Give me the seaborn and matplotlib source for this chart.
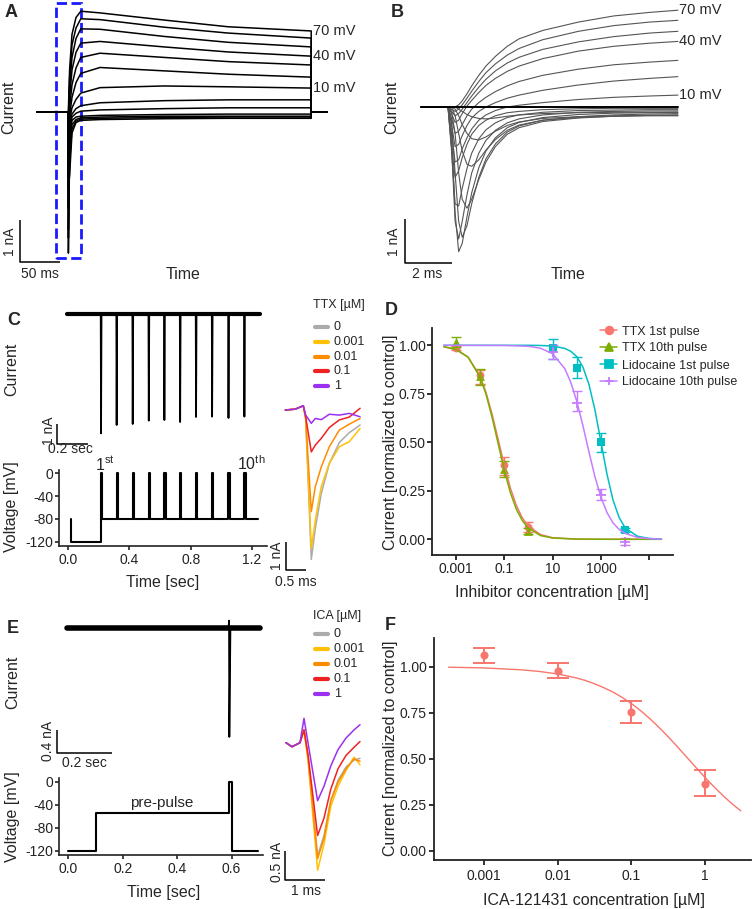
import numpy as np
import pandas as pd
import matplotlib.pyplot as plt
import seaborn as sns
from matplotlib.lines import Line2D
from matplotlib.patches import Rectangle

sns.set_style("ticks")
plt.rcParams["font.family"] = ["Liberation Sans", "DejaVu Sans"]
plt.rcParams["mathtext.fontset"] = "custom"
plt.rcParams["mathtext.rm"] = "Liberation Sans"
plt.rcParams["mathtext.it"] = "Liberation Sans:italic"
plt.rcParams["mathtext.bf"] = "Liberation Sans:bold"
plt.rcParams["axes.unicode_minus"] = False

W, H = 756, 909

# ---------------- data ----------------
# A: currents over the whole 300 ms step (time in ms, current in nA), 70 mV downwards
a_time = [-39, 0, 0.5, 2, 5, 10, 16, 40, 120, 200, 304, 304, 324]
a_current = [
    [0, 0, 0.05, 1.0, 1.85, 2.25, 2.4, 2.36, 2.19, 2.03, 1.93, 0, 0],
    [0, 0, -0.1, 0.8, 1.6, 2.0, 2.22, 2.2, 2.02, 1.88, 1.76, 0, 0],
    [0, 0, -0.2, 0.6, 1.3, 1.75, 1.98, 1.97, 1.8, 1.66, 1.55, 0, 0],
    [0, 0, -0.35, 0.35, 1.0, 1.42, 1.64, 1.68, 1.55, 1.43, 1.33, 0, 0],
    [0, 0, -0.6, 0.1, 0.65, 1.05, 1.3, 1.4, 1.3, 1.2, 1.12, 0, 0],
    [0, 0, -0.9, -0.1, 0.35, 0.7, 0.92, 1.06, 0.98, 0.9, 0.83, 0, 0],
    [0, 0, -1.25, -0.2, 0.1, 0.3, 0.45, 0.58, 0.62, 0.6, 0.57, 0, 0],
    [0, 0, -1.6, -0.3, -0.05, 0.08, 0.15, 0.22, 0.27, 0.29, 0.29, 0, 0],
    [0, 0, -2.3, -0.5, -0.12, -0.03, 0.02, 0.05, 0.08, 0.1, 0.1, 0, 0],
    [0, 0, -3.0, -0.6, -0.2, -0.12, -0.1, -0.08, -0.06, -0.05, -0.05, 0, 0],
    [0, 0, -3.36, -0.9, -0.3, -0.18, -0.14, -0.12, -0.1, -0.1, -0.1, 0, 0],
    [0, 0, -2.8, -1.2, -0.4, -0.22, -0.17, -0.15, -0.13, -0.12, -0.12, 0, 0],
    [0, 0, -1.8, -1.5, -0.5, -0.25, -0.2, -0.18, -0.16, -0.15, -0.15, 0, 0],
]
step_label_rows = [0, 3, 6]
step_label_text = ["70 mV", "40 mV", "10 mV"]

# B: first 10 ms of the same steps (time in ms, current in nA)
b_time = [-1.15, 0, 0.15, 0.3, 0.45, 0.6, 0.8, 1.0, 1.3, 1.6, 2.0, 2.5, 3.0, 4.0, 5.5, 7.0, 8.5, 9.7]
b_current = [
    [0, 0, 0, 0.0, 0.05, 0.14, 0.3, 0.48, 0.72, 0.93, 1.15, 1.38, 1.55, 1.74, 1.93, 2.07, 2.15, 2.2],
    [0, 0, -0.05, -0.1, -0.05, 0.05, 0.2, 0.36, 0.58, 0.78, 0.98, 1.18, 1.33, 1.53, 1.72, 1.85, 1.93, 1.97],
    [0, 0, -0.1, -0.2, -0.15, -0.05, 0.1, 0.25, 0.45, 0.63, 0.82, 1.0, 1.13, 1.31, 1.48, 1.6, 1.68, 1.72],
    [0, 0, -0.15, -0.35, -0.3, -0.15, 0.02, 0.15, 0.33, 0.49, 0.65, 0.81, 0.93, 1.1, 1.27, 1.38, 1.45, 1.49],
    [0, 0, -0.25, -0.6, -0.55, -0.4, -0.2, -0.05, 0.1, 0.22, 0.35, 0.48, 0.58, 0.72, 0.86, 0.96, 1.02, 1.06],
    [0, 0, -0.4, -0.9, -0.85, -0.65, -0.42, -0.25, -0.1, 0.0, 0.1, 0.2, 0.27, 0.38, 0.5, 0.59, 0.65, 0.69],
    [0, 0, -0.6, -1.25, -1.2, -0.95, -0.7, -0.5, -0.3, -0.18, -0.08, 0.0, 0.04, 0.1, 0.17, 0.22, 0.25, 0.27],
    [0, 0, -0.9, -1.6, -1.45, -1.15, -0.85, -0.62, -0.42, -0.3, -0.2, -0.13, -0.1, -0.06, -0.04, -0.03, -0.03, -0.03],
    [0, 0, -1.0, -2.2, -2.25, -1.85, -1.4, -1.05, -0.72, -0.52, -0.36, -0.24, -0.18, -0.12, -0.08, -0.07, -0.06, -0.06],
    [0, 0, -0.9, -2.6, -3.0, -2.6, -2.0, -1.5, -1.05, -0.76, -0.53, -0.36, -0.27, -0.18, -0.12, -0.1, -0.09, -0.09],
    [0, 0, -0.6, -2.4, -3.29, -3.1, -2.5, -1.95, -1.38, -1.0, -0.7, -0.47, -0.35, -0.24, -0.17, -0.14, -0.13, -0.12],
    [0, 0, -0.3, -1.5, -2.6, -2.96, -2.7, -2.2, -1.6, -1.18, -0.84, -0.57, -0.43, -0.3, -0.22, -0.18, -0.16, -0.15],
    [0, 0, -0.1, -0.6, -1.5, -2.1, -2.3, -2.1, -1.65, -1.25, -0.9, -0.62, -0.47, -0.33, -0.25, -0.21, -0.19, -0.18],
    [0, 0, 0, -0.2, -0.6, -1.0, -1.3, -1.35, -1.2, -0.98, -0.74, -0.53, -0.41, -0.3, -0.24, -0.21, -0.2, -0.2],
    [0, 0, 0, -0.05, -0.2, -0.4, -0.6, -0.72, -0.75, -0.68, -0.55, -0.42, -0.34, -0.26, -0.22, -0.2, -0.19, -0.19],
    [0, 0, 0, 0, -0.05, -0.1, -0.17, -0.22, -0.26, -0.27, -0.25, -0.21, -0.18, -0.15, -0.13, -0.12, -0.12, -0.12],
]
b_baseline = [0] * len(b_time)

# C: 10 Hz train (time in s, current in nA, voltage in mV)
c_trace_start, c_trace_end = -0.0085, 1.253
c_pulse_times = [0.214, 0.316, 0.421, 0.526, 0.628, 0.731, 0.835, 0.94, 1.047, 1.151]
c_spike_amp = [5.97, 5.55, 5.5, 5.33, 5.3, 5.4, 5.15, 5.13, 5.2, 5.13]
c_pulse_dur = 0.008
c_v_start, c_v_end = 0.015, 1.24
c_v_hold, c_v_pre, c_v_test, c_v_inter = -80, -120, 0, -80

conc_labels = ["0", "0.001", "0.01", "0.1", "1"]
conc_colors = ["#ABABAB", "#FFC107", "#FF8C00", "#EE2222", "#9B30F0"]

# C inset: first-pulse currents for each TTX concentration (ms, nA)
ci_time = [-0.45, -0.2, 0.0, 0.06, 0.2, 0.3, 0.45, 0.65, 0.9, 1.15, 1.42]
ci_current = [
    [0, 0.03, 0.15, -0.3, -5.28, -4.19, -2.95, -1.89, -1.15, -0.80, -0.53],
    [0, 0.03, 0.15, -0.3, -4.89, -3.89, -2.71, -1.89, -1.30, -1.12, -0.65],
    [0, 0.03, 0.15, -0.3, -3.59, -2.71, -2.01, -1.30, -0.71, -0.50, -0.30],
    [0, 0.03, 0.15, -0.24, -1.48, -1.24, -1.0, -0.62, -0.35, -0.25, 0.06],
    [0, 0.03, 0.15, -0.18, -0.47, -0.30, -0.34, -0.15, -0.18, -0.12, -0.24],
]

# D: concentration-response (µM, normalized current)
d_series = ["TTX 1st pulse", "TTX 10th pulse", "Lidocaine 1st pulse", "Lidocaine 10th pulse"]
d_colors = ["#F8766D", "#7CAE00", "#00BFC4", "#C77CFF"]
d_markers = ["o", "^", "s", "+"]
d_conc = [
    [0.001, 0.01, 0.1, 1],
    [0.001, 0.01, 0.1, 1],
    [10, 100, 1000, 10000],
    [10, 100, 1000, 10000],
]
d_mean = [
    [0.988, 0.847, 0.383, 0.065],
    [1.018, 0.84, 0.36, 0.044],
    [0.985, 0.885, 0.50, 0.048],
    [0.967, 0.705, 0.228, -0.012],
]
d_low = [
    [0.975, 0.80, 0.33, 0.04],
    [0.99, 0.795, 0.32, 0.025],
    [0.93, 0.83, 0.45, 0.035],
    [0.93, 0.66, 0.20, -0.03],
]
d_high = [
    [0.995, 0.875, 0.425, 0.09],
    [1.045, 0.88, 0.405, 0.06],
    [1.035, 0.94, 0.548, 0.06],
    [1.0, 0.765, 0.258, 0.005],
]
d_fit_log_ttx = [-3.5, -3, -2.5, -2, -1.75, -1.5, -1.25, -1, -0.75, -0.5, -0.25, 0, 0.5, 1, 2, 3.5, 5.5]
d_fit_log_lido = [-3.5, -1, 0, 0.5, 1, 1.5, 1.75, 2, 2.25, 2.5, 2.75, 3, 3.25, 3.5, 3.75, 4, 4.5, 5, 5.5]
d_fit_log = [d_fit_log_ttx, d_fit_log_ttx, d_fit_log_lido, d_fit_log_lido]
d_fit = [
    [0.992, 0.978, 0.939, 0.84, 0.754, 0.641, 0.512, 0.38, 0.264, 0.173, 0.109, 0.067, 0.024, 0.008, 0.001, 0.0, 0.0],
    [0.993, 0.979, 0.939, 0.835, 0.744, 0.625, 0.49, 0.355, 0.24, 0.154, 0.095, 0.057, 0.019, 0.0065, 0.0007, 0.0, 0.0],
    [1.0, 1.0, 1.0, 0.999, 0.996, 0.984, 0.969, 0.941, 0.888, 0.799, 0.666, 0.5, 0.334, 0.201, 0.112, 0.059, 0.016, 0.004, 0.001],
    [1.0, 0.999, 0.995, 0.985, 0.956, 0.880, 0.809, 0.71, 0.587, 0.451, 0.322, 0.216, 0.137, 0.084, 0.051, 0.030, 0.010, 0.0035, 0.0012],
]
d_xticks = [1e-3, 1e-1, 1e1, 1e3, 1e5]
d_xticklabels = ["0.001", "0.1", "10", "1000", ""]

# E: pre-pulse protocol (s, nA, mV)
e_trace_start, e_trace_end = -0.005, 0.705
e_spike_time, e_spike_amp, e_blip = 0.592, 1.92, 0.13
e_v_time = [0.0, 0.1, 0.1, 0.592, 0.592, 0.603, 0.603, 0.698]
e_v_level = [-120, -120, -55, -55, 0, 0, -120, -120]

# E inset: test-pulse currents for each ICA concentration (ms, nA)
ei_time = [-0.45, -0.3, -0.1, 0.0, 0.1, 0.34, 0.5, 0.67, 0.85, 1.05, 1.25, 1.4]
ei_current = [
    [0, -0.07, 0.0, 0.22, -0.25, -1.95, -1.6, -1.0, -0.65, -0.42, -0.3, -0.27],
    [0, -0.07, 0.0, 0.22, -0.3, -2.2, -1.75, -1.1, -0.75, -0.48, -0.25, -0.38],
    [0, -0.07, 0.0, 0.22, -0.25, -2.0, -1.65, -1.0, -0.68, -0.45, -0.28, -0.32],
    [0, -0.07, 0.0, 0.22, -0.2, -1.6, -1.3, -0.8, -0.45, -0.22, -0.08, 0.02],
    [0, -0.07, 0.0, 0.42, 0.0, -1.0, -0.75, -0.4, -0.12, 0.08, 0.22, 0.31],
]

# F: ICA-121431 concentration-response
f_color = "#F8766D"
f_conc = [0.001, 0.01, 0.1, 1]
f_mean = [1.064, 0.977, 0.751, 0.364]
f_low = [1.022, 0.94, 0.695, 0.296]
f_high = [1.104, 1.018, 0.813, 0.436]
f_fit_log = [-3.48, -3, -2.5, -2.25, -2, -1.875, -1.75, -1.625, -1.5, -1.375, -1.25, -1.125,
             -1, -0.875, -0.75, -0.625, -0.5, -0.375, -0.25, -0.125, 0, 0.125, 0.25, 0.375, 0.485]
f_fit = [0.997, 0.993, 0.983, 0.974, 0.96, 0.950, 0.939, 0.925, 0.907, 0.886, 0.862, 0.833,
         0.80, 0.761, 0.718, 0.670, 0.619, 0.565, 0.509, 0.453, 0.398, 0.346, 0.297, 0.252, 0.217]
f_xticks = [0.001, 0.01, 0.1, 1]
f_xticklabels = ["0.001", "0.01", "0.1", "1"]

fit_yticks = [0, 0.25, 0.5, 0.75, 1.0]
fit_yticklabels = ["0.00", "0.25", "0.50", "0.75", "1.00"]

# ---------------- helpers ----------------
fig = plt.figure(figsize=(W / 100, H / 100), dpi=100)


def px_axes(x0, y0, x1, y1):
    return fig.add_axes([x0 / W, 1 - y1 / H, (x1 - x0) / W, (y1 - y0) / H])


def trace_axes(box, xlim, ylim):
    ax = px_axes(*box)
    ax.set_xlim(xlim)
    ax.set_ylim(ylim)
    ax.axis("off")
    return ax


def ftext(x, y, s, **kw):
    kw.setdefault("ha", "center")
    kw.setdefault("va", "center")
    fig.text(x / W, 1 - y / H, s, **kw)


def long_df(time, traces, names=None):
    rows = []
    for k, tr in enumerate(traces):
        name = names[k] if names else k
        for t, v in zip(time, tr):
            rows.append((name, t, v))
    return pd.DataFrame(rows, columns=["trace", "t", "i"])


def scalebar(ax, x, y, dx, dy):
    ax.plot([x, x, x + dx], [y + dy, y, y], color="black", lw=1.1,
            solid_capstyle="butt", clip_on=False)


def style_axes(ax, tick_len, pad_x, pad_y, lw):
    for s in ["top", "right"]:
        ax.spines[s].set_visible(False)
    for s in ["left", "bottom"]:
        ax.spines[s].set_linewidth(lw)
        ax.spines[s].set_color("#222222")
    ax.tick_params(axis="both", length=tick_len, width=lw, labelsize=10,
                   color="#222222", labelcolor="#222222")
    ax.tick_params(axis="x", pad=pad_x)
    ax.tick_params(axis="y", pad=pad_y)
    ax.set_xlabel("")
    ax.set_ylabel("")


def conc_legend(title, x, y_title, y_first, step):
    ftext(x, y_title, title, ha="left", fontsize=9)
    for k, (lab, col) in enumerate(zip(conc_labels, conc_colors)):
        y = y_first + k * step
        fig.add_artist(Line2D([(x + 2) / W, (x + 15) / W], [1 - y / H] * 2,
                              color=col, lw=3, transform=fig.transFigure))
        ftext(x + 21, y, lab, ha="left", fontsize=9)


# ---------------- A ----------------
ax_a = trace_axes((0, 0, 380, 280), (-85, 390), (-4.0, 2.667))
sns.lineplot(data=long_df(a_time, a_current), x="t", y="i", units="trace",
             estimator=None, sort=False, color="black", lw=1.1, legend=False, ax=ax_a)
for row, lab in zip(step_label_rows, step_label_text):
    ax_a.text(a_time[-3] + 2, a_current[row][-3], lab, ha="left", va="center", fontsize=10.5)
ax_a.add_patch(Rectangle((-15, -3.476), 31.25, 6.071, fill=False, ec="#1a1aff",
                         lw=2, ls=(0, (3.7, 1.6))))
scalebar(ax_a, -60, -3.571, 50, 1)
ftext(10, 242, "1 nA", rotation=90, fontsize=10)
ftext(40, 274, "50 ms", fontsize=10)
ftext(9, 107, "Current", rotation=90, fontsize=11.5)
ftext(183, 275, "Time", fontsize=11.5)

# ---------------- B ----------------
ax_b = trace_axes((380, 0, 756, 280), (-2.869, 12.996), (-3.932, 2.432))
sns.lineplot(data=long_df(b_time, b_current), x="t", y="i", units="trace",
             estimator=None, sort=False, color="#555555", lw=0.8, legend=False, ax=ax_b)
sns.lineplot(x=b_time, y=b_baseline, estimator=None, sort=False, color="black", lw=1.4, ax=ax_b)
for row, lab in zip(step_label_rows, step_label_text):
    ax_b.text(b_time[-1] + 0.05, b_current[row][-1], lab, ha="left", va="center", fontsize=10.5)
scalebar(ax_b, -1.827, -3.552, 2, 1)
ftext(394, 242, "1 nA", rotation=90, fontsize=10)
ftext(427, 274, "2 ms", fontsize=10)
ftext(392, 107, "Current", rotation=90, fontsize=11.5)
ftext(568, 275, "Time", fontsize=11.5)

# ---------------- C ----------------
ax_cc = trace_axes((50, 295, 280, 470), (-0.1196, 1.3837), (-7.8, 0.95))
t_c, i_c = [c_trace_start], [0]
for ts, amp in zip(c_pulse_times, c_spike_amp):
    t_c += [ts - 0.002, ts, ts + 0.003]
    i_c += [0, -amp, 0]
t_c.append(c_trace_end)
i_c.append(0)
sns.lineplot(x=t_c, y=i_c, estimator=None, sort=False, color="black", lw=1.3, ax=ax_cc)
sns.lineplot(x=[c_trace_start, c_trace_end], y=[0, 0], estimator=None, sort=False,
             color="black", lw=3.0, ax=ax_cc)
scalebar(ax_cc, -0.0739, -6.5, 0.2, 1)
ftext(49, 431, "1 nA", rotation=90, fontsize=10)
ftext(70, 449, "0.2 sec", fontsize=10)
ftext(12, 369, "Current", rotation=90, fontsize=11.5)

ax_cv = px_axes(59.3, 470, 267, 545.7)
t_v, v_v = [c_v_start, c_v_start], [c_v_hold, c_v_pre]
level = c_v_pre
for ts in c_pulse_times:
    t_v += [ts, ts, ts + c_pulse_dur, ts + c_pulse_dur]
    v_v += [level, c_v_test, c_v_test, c_v_inter]
    level = c_v_inter
t_v.append(c_v_end)
v_v.append(c_v_inter)
sns.lineplot(x=t_v, y=v_v, estimator=None, sort=False, color="black", lw=1.5, ax=ax_cv)
ax_cv.set_xlim(-0.0588, 1.2987)
ax_cv.set_ylim(-127, 5.8)
ax_cv.set_xticks([0, 0.4, 0.8, 1.2], ["0.0", "0.4", "0.8", "1.2"])
ax_cv.set_yticks([-120, -80, -40, 0], ["-120", "-80", "-40", "0"])
style_axes(ax_cv, 3, 2, 1, 1.2)
ftext(12, 507, "Voltage [mV]", rotation=90, fontsize=11.5)
ftext(163, 583, "Time [sec]", fontsize=11.5)
ftext(105, 464, r"1$^{\rm st}$", fontsize=11.5)
ftext(251, 464, r"10$^{\rm th}$", fontsize=11.5)

ax_ci = trace_axes((270, 395, 368, 590), (-0.8325, 1.6175), (-6.36, 0.53))
sns.lineplot(data=long_df(ci_time, ci_current, conc_labels), x="t", y="i", hue="trace",
             hue_order=conc_labels, palette=conc_colors, estimator=None, sort=False,
             lw=1.1, legend=False, ax=ax_ci)
scalebar(ax_ci, -0.44, -5.654, 0.5, 1)
ftext(277, 556, "1 nA", rotation=90, fontsize=10)
ftext(296, 582, "0.5 ms", fontsize=10)
conc_legend("TTX [µM]", 313, 305, 327, 14.8)

# ---------------- D ----------------
ax_d = px_axes(432.3, 328.3, 672.7, 555)
ax_d.set_xscale("log")
fit_rows = []
for name, logs, vals in zip(d_series, d_fit_log, d_fit):
    for lg, v in zip(logs, vals):
        fit_rows.append((name, 10.0 ** lg, v))
df_dfit = pd.DataFrame(fit_rows, columns=["series", "conc", "value"])
for name, col, mk, xs, m, lo, hi in zip(d_series, d_colors, d_markers, d_conc, d_mean, d_low, d_high):
    m = np.array(m)
    ax_d.errorbar(xs, m, yerr=[m - np.array(lo), np.array(hi) - m], fmt="none",
                  ecolor=col, elinewidth=1.0, capsize=3.6, capthick=1.0)
    if mk == "+":
        sns.scatterplot(x=xs, y=m, marker="+", color=col, s=60, linewidth=1.3, ax=ax_d)
    else:
        sns.scatterplot(x=xs, y=m, marker=mk, color=col, s=32 if mk != "^" else 40,
                        linewidth=0, ax=ax_d)
sns.lineplot(data=df_dfit, x="conc", y="value", hue="series", hue_order=d_series,
             palette=d_colors, estimator=None, sort=False, lw=1.1, legend=False, ax=ax_d)
ax_d.set_xlim(10 ** -3.98, 10 ** 5.966)
ax_d.set_ylim(-0.081, 1.0876)
ax_d.set_xticks(d_xticks, d_xticklabels)
ax_d.minorticks_off()
ax_d.set_yticks(fit_yticks, fit_yticklabels)
style_axes(ax_d, 3.6, 1.6, 1.0, 1.3)
handles = [Line2D([0], [0], color=c, marker=mk, lw=1.1, markersize=5.5, mew=1.3)
           for c, mk in zip(d_colors, d_markers)]
ax_d.legend(handles, d_series, loc="upper left", bbox_to_anchor=(600 / W, 1 - 325.5 / H),
            bbox_transform=fig.transFigure, frameon=False, fontsize=9, handlelength=1.36,
            handletextpad=0.4, labelspacing=0.4, borderpad=0, borderaxespad=0)
ftext(390, 442, "Current [normalized to control]", rotation=90, fontsize=11.5)
ftext(552, 593, "Inhibitor concentration [µM]", fontsize=11.5)

# ---------------- E ----------------
ax_ec = trace_axes((50, 605, 280, 770), (-0.0673, 0.7783), (-2.504, 0.406))
t_e = [e_trace_start, e_spike_time - 0.003, e_spike_time - 0.001, e_spike_time,
       e_spike_time + 0.004, e_trace_end]
i_e = [0, 0, e_blip, -e_spike_amp, 0, 0]
sns.lineplot(x=t_e, y=i_e, estimator=None, sort=False, color="black", lw=1.3, ax=ax_ec)
sns.lineplot(x=[e_trace_start, e_trace_end], y=[0, 0], estimator=None, sort=False,
             color="black", lw=4.0, ax=ax_ec)
scalebar(ax_ec, -0.0404, -2.199, 0.2, 0.4)
ftext(48, 741, "0.4 nA", rotation=90, fontsize=10)
ftext(84, 763, "0.2 sec", fontsize=10)
ftext(12.5, 682, "Current", rotation=90, fontsize=11.5)

ax_ev = px_axes(59.3, 778.3, 263.3, 855)
sns.lineplot(x=e_v_time, y=e_v_level, estimator=None, sort=False, color="black", lw=1.5, ax=ax_ev)
ax_ev.set_xlim(-0.0331, 0.7169)
ax_ev.set_ylim(-127.5, 5.9)
ax_ev.set_xticks([0, 0.2, 0.4, 0.6], ["0.0", "0.2", "0.4", "0.6"])
ax_ev.set_yticks([-120, -80, -40, 0], ["-120", "-80", "-40", "0"])
style_axes(ax_ev, 3, 2, 1, 1.2)
ftext(13, 817, "Voltage [mV]", rotation=90, fontsize=11.5)
ftext(164, 893, "Time [sec]", fontsize=11.5)
ftext(162, 803, "pre-pulse", fontsize=11)

ax_ei = trace_axes((270, 700, 368, 900), (-0.85, 1.6), (-2.712, 0.736))
sns.lineplot(data=long_df(ei_time, ei_current, conc_labels), x="t", y="i", hue="trace",
             hue_order=conc_labels, palette=conc_colors, estimator=None, sort=False,
             lw=1.1, legend=False, ax=ax_ei)
scalebar(ax_ei, -0.475, -2.367, 1.0, 0.5)
ftext(277, 862, "0.5 nA", rotation=90, fontsize=10)
ftext(306, 891, "1 ms", fontsize=10)
conc_legend("ICA [µM]", 313, 616, 634.3, 15)

# ---------------- F ----------------
ax_f = px_axes(434, 638.3, 750.7, 860)
ax_f.set_xscale("log")
fm = np.array(f_mean)
ax_f.errorbar(f_conc, fm, yerr=[fm - np.array(f_low), np.array(f_high) - fm], fmt="none",
              ecolor=f_color, elinewidth=1.4, capsize=7.8, capthick=1.4)
sns.scatterplot(x=f_conc, y=f_mean, color=f_color, s=34, linewidth=0, ax=ax_f)
sns.lineplot(x=np.power(10.0, f_fit_log), y=f_fit, estimator=None, sort=False,
             color=f_color, lw=1.0, ax=ax_f)
ax_f.set_xlim(10 ** -3.678, 10 ** 0.62)
ax_f.set_ylim(-0.0505, 1.154)
ax_f.set_xticks(f_xticks, f_xticklabels)
ax_f.minorticks_off()
ax_f.set_yticks(fit_yticks, fit_yticklabels)
style_axes(ax_f, 3.6, 3.0, 1.7, 1.3)
ftext(390, 748, "Current [normalized to control]", rotation=90, fontsize=11.5)
ftext(594, 901, "ICA-121431 concentration [µM]", fontsize=11.5)

# ---------------- panel letters ----------------
for lab, x, y in [("A", 5, 17), ("B", 391, 17), ("C", 7, 325),
                  ("D", 385, 315), ("E", 7, 633), ("F", 385, 630)]:
    fig.text(x / W, 1 - y / H, lab, ha="left", va="baseline", fontsize=13, fontweight="bold")

fig.savefig("out.png", dpi=100)
